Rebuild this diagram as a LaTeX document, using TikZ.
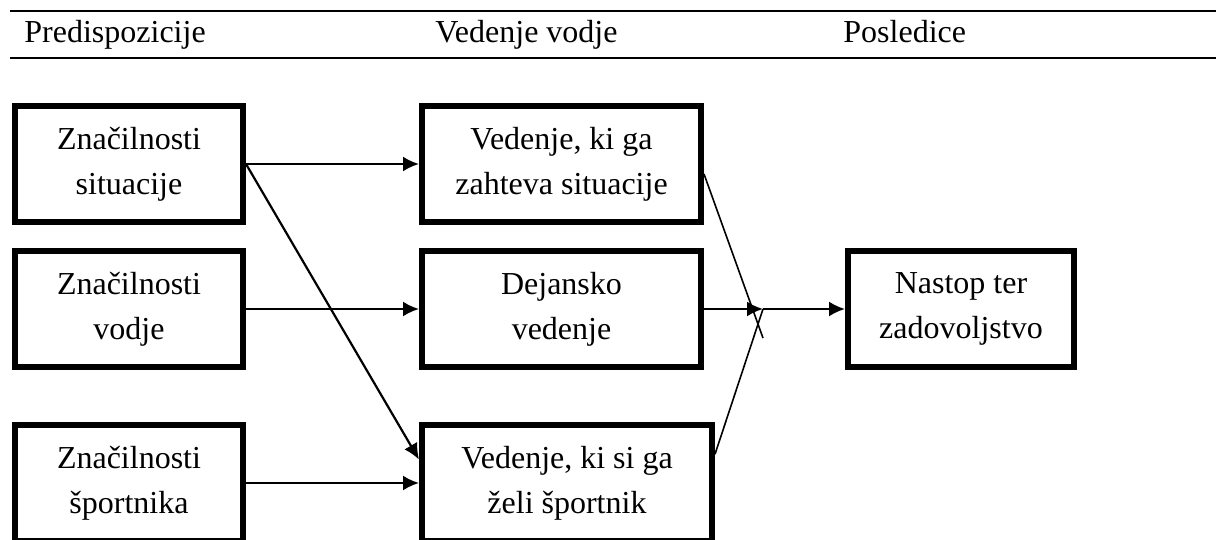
\documentclass[tikz,border=0pt]{standalone}
\usepackage{fontspec}
\setmainfont{Liberation Serif}
\usetikzlibrary{arrows.meta}

\begin{document}
\begin{tikzpicture}[x=0.5pt, y=-0.5pt,
  box/.style={draw, line width=3pt, align=center, inner sep=0pt, minimum height=58pt,
    font=\fontsize{16}{22.5}\selectfont},
  head/.style={anchor=base west, inner sep=0pt, font=\fontsize{16}{18}\selectfont},
  arr/.style={line width=1.1pt, -{Latex[length=8pt, width=7.5pt]}},
  thinline/.style={line width=0.8pt}]
\useasboundingbox (0,0) rectangle (1216,540);
% header
\draw[line width=1.3pt] (10,11) -- (1216,11);
\draw[line width=1.3pt] (10,58) -- (1216,58);
\node[head] (h1) at (24,43) {Predispozicije};
\node[head] (h2) at (435,43) {Vedenje vodje};
\node[head] (h3) at (843,43) {Posledice};
% boxes
\node[box, minimum width=114pt] (vs1) at (129,164) {Značilnosti\\situacije};
\node[box, minimum width=114pt] (vs2) at (129,309) {Značilnosti\\vodje};
\node[box, minimum width=114pt] (vs3) at (129,483) {Značilnosti\\športnika};
\node[box, minimum width=139.5pt] (vz1) at (561.5,164) {Vedenje, ki ga\\zahteva situacije};
\node[box, minimum width=139.5pt] (vz2) at (561.5,309) {Dejansko\\vedenje};
\node[box, minimum width=145pt] (vz3) at (567,483) {Vedenje, ki si ga\\želi športnik};
\node[box, minimum width=113pt] (nz) at (961,309) {Nastop ter\\zadovoljstvo};
\coordinate (j) at (763,309);
\coordinate (jx) at (763,338);
% arrows
\draw[arr] (vs1) -- (vz1);
\draw[arr] (vs1.east) -- (vz3.171);
\draw[arr] (vs2) -- (vz2);
\draw[arr] (vs3) -- (vz3);
\draw[thinline] (vz1.-4) -- (jx);
\draw[thinline] (vz3.11) -- (j);
\draw[arr] (vz2) -- (j);
\draw[arr] (j) -- (nz);
\end{tikzpicture}
\end{document}
